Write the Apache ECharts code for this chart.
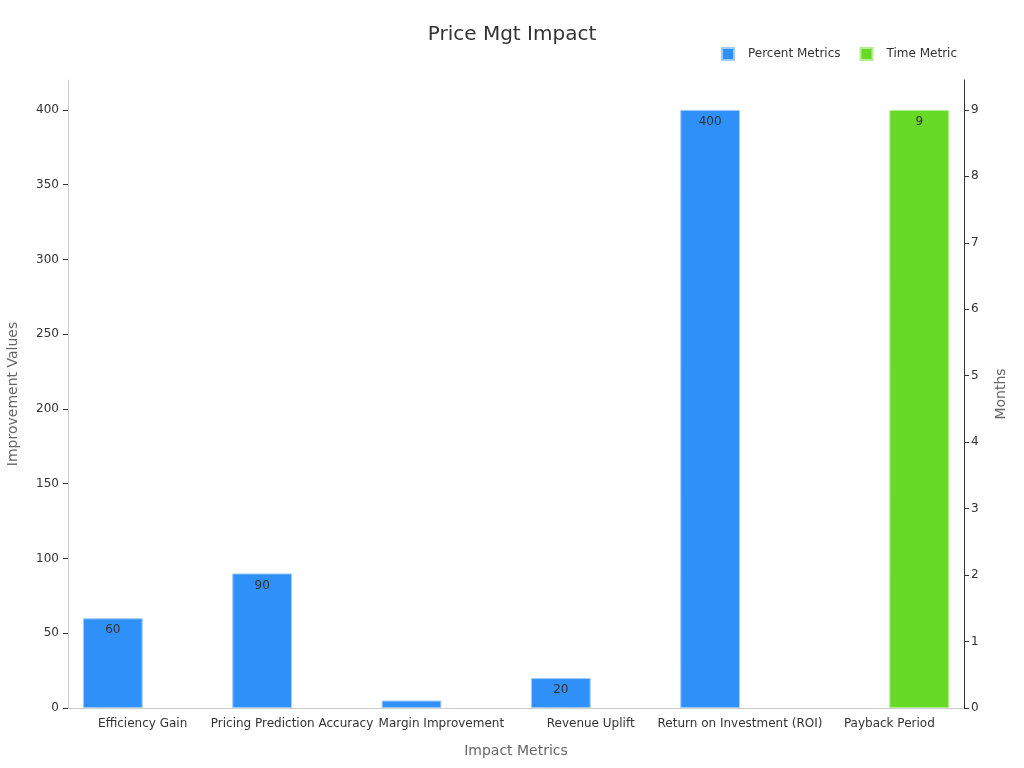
<!DOCTYPE html>
<html style="height: 100%">
<head>
<meta charset="utf-8">
<script src="https://cdn.jsdelivr.net/npm/echarts@6/dist/echarts.min.js"></script>
</head>
<body style="height: 100%; margin: 0">
<div id="container" style="width: 1024px; height: 768px"></div>
<script type="text/javascript">
var categories = ['Efficiency Gain', 'Pricing Prediction Accuracy', 'Margin Improvement', 'Revenue Uplift', 'Return on Investment (ROI)', 'Payback Period'];
var percentMetrics = [60, 90, 5, 20, 400, null];
var timeMetric = [null, null, null, null, null, 9];

var chart = echarts.init(document.getElementById('container'));
var font = 'DejaVu Sans';

// tiny bar: its label does not fit, keep it hidden
var percentData = percentMetrics.map(function (v) {
    if (v !== null && v < 10) return { value: v, label: { show: false } };
    return v;
});

var option = {
    textStyle: { fontFamily: font },
    title: {
        text: 'Price Mgt Impact',
        left: 'center',
        top: 20,
        textStyle: { fontFamily: font, fontSize: 20, fontWeight: 'normal', color: '#333' }
    },
    legend: {
        right: 62,
        top: 42,
        icon: 'rect',
        itemWidth: 12,
        itemHeight: 12,
        itemGap: 19,
        textStyle: { fontFamily: font, fontSize: 12, color: '#333', padding: [0, 0, 0, 9] },
        data: ['Percent Metrics', 'Time Metric']
    },
    grid: { left: 68, right: 60, top: 80, bottom: 60, containLabel: false, outerBoundsMode: 'none' },
    xAxis: {
        type: 'category',
        data: categories,
        name: 'Impact Metrics',
        nameLocation: 'middle',
        nameGap: 36,
        nameTextStyle: { fontSize: 14, color: '#666' },
        axisLine: { lineStyle: { color: '#ccc' } },
        axisTick: { alignWithLabel: true, lineStyle: { color: '#333' } },
        axisLabel: { color: '#333', fontSize: 12, interval: 0, margin: 10 }
    },
    yAxis: [{
        type: 'value',
        min: 0,
        max: 420,
        interval: 50,
        name: 'Improvement Values',
        nameLocation: 'middle',
        nameGap: 48,
        nameTextStyle: { fontSize: 14, color: '#666' },
        axisLine: { show: true, lineStyle: { color: '#ccc' } },
        axisTick: { show: true, length: 5, lineStyle: { color: '#333' } },
        axisLabel: { color: '#333', fontSize: 12, margin: 9, showMaxLabel: false },
        splitLine: { show: false }
    }, {
        type: 'value',
        min: 0,
        max: 9.45,
        interval: 1,
        name: 'Months',
        nameLocation: 'middle',
        nameGap: 30,
        nameTextStyle: { fontSize: 14, color: '#666' },
        axisLine: { show: true, lineStyle: { color: '#333' } },
        axisTick: { show: true, length: 5, lineStyle: { color: '#333' } },
        axisLabel: { color: '#333', fontSize: 12, margin: 7, showMaxLabel: false },
        splitLine: { show: false }
    }],
    series: [{
        name: 'Percent Metrics',
        type: 'bar',
        yAxisIndex: 0,
        data: percentData,
        barGap: 0,
        barCategoryGap: '20%',
        itemStyle: { color: '#2e90f8', borderColor: '#9fcbfa', borderWidth: 1 },
        label: { show: true, position: 'insideTop', distance: 6, color: '#333', fontSize: 12 }
    }, {
        name: 'Time Metric',
        type: 'bar',
        yAxisIndex: 1,
        data: timeMetric,
        itemStyle: { color: '#66da26', borderColor: '#b3ee93', borderWidth: 1 },
        label: { show: true, position: 'insideTop', distance: 6, color: '#333', fontSize: 12 }
    }]
};

chart.setOption(option);
window.onresize = function () { chart.resize(); };
</script>
</body>
</html>
